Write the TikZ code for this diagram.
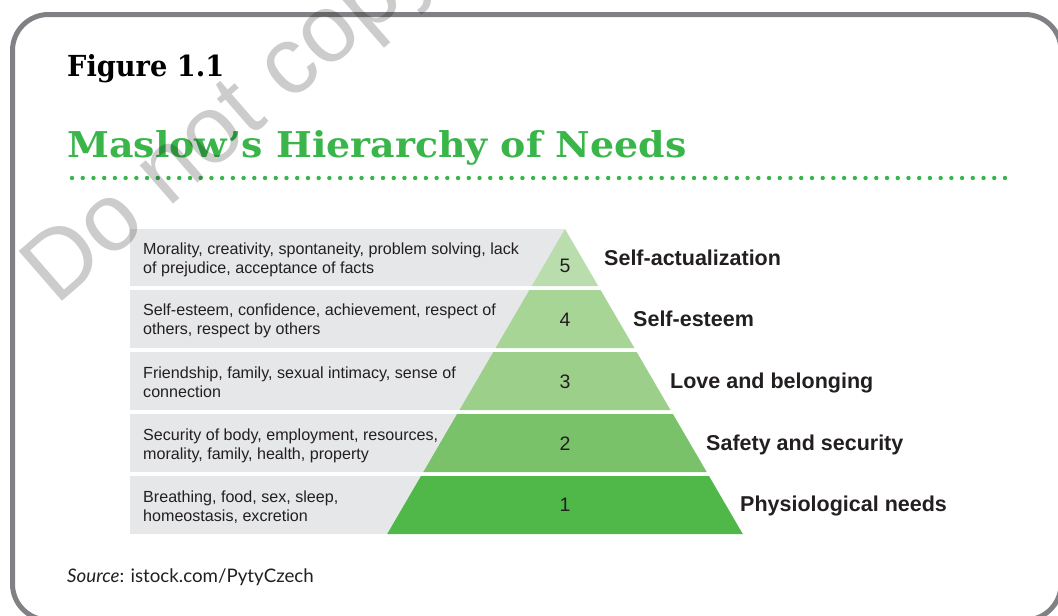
\documentclass[tikz,border=0pt]{standalone}
\usepackage{fontspec}
\setmainfont{Liberation Sans}
\newfontfamily\slabfont{DejaVu Serif}
\newfontfamily\srcfont{Lato}
\definecolor{titlegreen}{RGB}{57,181,74}
\definecolor{framegray}{RGB}{128,129,132}
\definecolor{bandgray}{RGB}{230,231,232}
\definecolor{gA}{RGB}{80,184,72}
\definecolor{gB}{RGB}{122,194,106}
\definecolor{gC}{RGB}{155,207,138}
\definecolor{gD}{RGB}{166,213,150}
\definecolor{gE}{RGB}{186,221,173}
\definecolor{txt}{RGB}{35,31,32}
\tikzset{
  desc/.style={anchor=base west, inner sep=0pt, text=txt, font=\fontsize{16.1}{19}\selectfont},
  num/.style={anchor=base, inner sep=0pt, text=txt, font=\fontsize{19.5}{20}\selectfont},
  lvl/.style={anchor=base west, inner sep=0pt, text=txt, font=\bfseries\fontsize{21.5}{24}\selectfont},
  band/.style={fill=bandgray},
}
\begin{document}
\begin{tikzpicture}[x=1pt,y=-1pt]
\useasboundingbox (0,0) rectangle (1058,616);
\clip (0,0) rectangle (1058,616);
% frame
\draw[framegray, line width=5pt, rounded corners=36pt] (12.5,14.5) rectangle (1061,620);
% titles
\node[anchor=base west, inner sep=0pt] (fig) at (67,76)
  {\resizebox{157pt}{22pt}{\slabfont\bfseries Figure 1.1}};
\node[anchor=base west, inner sep=0pt, text=titlegreen] (title) at (67,157)
  {\resizebox{619pt}{27pt}{\slabfont\bfseries Maslow’s Hierarchy of Needs}};
\foreach \i in {0,...,87} \fill[titlegreen] ({72+\i*10.724},178) circle[radius=2.2pt];
% gray bands
\fill[band] (130,229) rectangle (565,286);
\fill[band] (130,290) rectangle (565,348);
\fill[band] (130,352) rectangle (565,410);
\fill[band] (130,414) rectangle (565,472);
\fill[band] (130,476) rectangle (565,534);
% pyramid levels
\fill[gE] (565,229) -- (598.2,286) -- (531.8,286) -- cycle;
\fill[gD] (529.4,290) -- (600.6,290) -- (634.4,348) -- (495.6,348) -- cycle;
\fill[gC] (493.3,352) -- (636.7,352) -- (670.5,410) -- (459.5,410) -- cycle;
\fill[gB] (457.1,414) -- (672.9,414) -- (706.7,472) -- (423.3,472) -- cycle;
\fill[gA] (421.0,476) -- (709.0,476) -- (742.8,534) -- (387.2,534) -- cycle;
% descriptions
\node[desc] (d5) at (143,254.5) {\parbox[t]{420pt}{Morality, creativity, spontaneity, problem solving, lack\\of prejudice, acceptance of facts}};
\node[desc] (d4) at (143,315.5) {\parbox[t]{420pt}{Self-esteem, confidence, achievement, respect of\\others, respect by others}};
\node[desc] (d3) at (143,378) {\parbox[t]{420pt}{Friendship, family, sexual intimacy, sense of\\connection}};
\node[desc] (d2) at (143,440.5) {\parbox[t]{420pt}{Security of body, employment, resources,\\morality, family, health, property}};
\node[desc] (d1) at (143,502.5) {\parbox[t]{420pt}{Breathing, food, sex, sleep,\\homeostasis, excretion}};
% numbers
\node[num] (n5) at (565,272) {5};
\node[num] (n4) at (565,326) {4};
\node[num] (n3) at (565,388) {3};
\node[num] (n2) at (565,450) {2};
\node[num] (n1) at (565,511.7) {1};
% level labels
\node[lvl] (l5) at (604,265) {Self-actualization};
\node[lvl] (l4) at (633,326) {Self-esteem};
\node[lvl] (l3) at (670,388.3) {Love and belonging};
\node[lvl] (l2) at (706,450) {Safety and security};
\node[lvl] (l1) at (740,511.7) {Physiological needs};
% source
\node[anchor=base west, inner sep=0pt, text=txt] (src) at (67,582.7)
  {\srcfont\fontsize{18.7}{20}\selectfont\textit{Source}: istock.com/PytyCzech};
% watermark
\node[rotate=41, anchor=base west, inner sep=0pt, text=black, text opacity=0.2,
  font=\fontsize{96}{96}\selectfont] (wm) at (56,307) {Do not copy};
\end{tikzpicture}
\end{document}
